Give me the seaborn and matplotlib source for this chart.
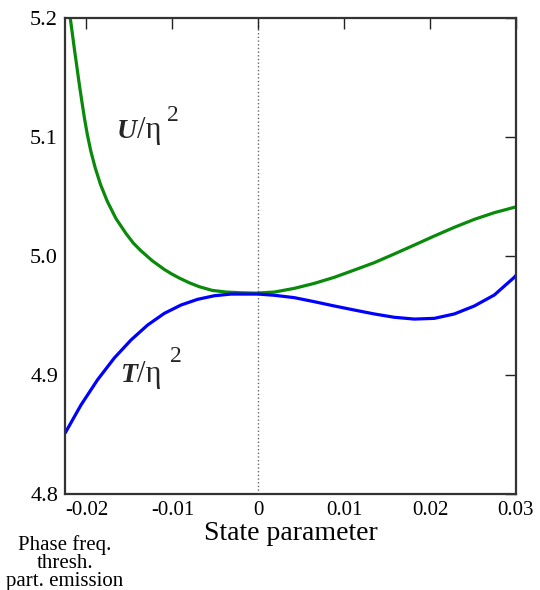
import numpy as np
import pandas as pd
import matplotlib
matplotlib.use('Agg')
import matplotlib.pyplot as plt
import seaborn as sns
from matplotlib.transforms import offset_copy

# ---- data ----
u_x = [-0.02189, -0.02163, -0.02137, -0.0211, -0.02083, -0.02054, -0.02024, -0.0199,
       -0.01949, -0.01898, -0.01836, -0.01758, -0.01657, -0.0154, -0.01455, -0.01366,
       -0.01234, -0.01094, -0.01013, -0.0092, -0.00803, -0.00687, -0.00536, -0.00373,
       -0.00198, -0.00023, 0.00186, 0.00419, 0.00652,
       0.00885, 0.01118, 0.0135, 0.01583, 0.01816, 0.02049, 0.02282, 0.02515, 0.02747,
       0.0298, 0.03]
u_y = [5.200, 5.186, 5.172, 5.158, 5.144, 5.130, 5.116, 5.102,
       5.088, 5.074, 5.060, 5.046, 5.0315, 5.0189, 5.0109, 5.0044,
       4.9960, 4.9887, 4.9851, 4.9815, 4.9775, 4.9742, 4.9711, 4.9697,
       4.9691, 4.9688, 4.9697, 4.9728, 4.977,
       4.9821, 4.9882, 4.9944, 5.0017, 5.0092, 5.0168, 5.0241, 5.0308, 5.0364,
       5.0409, 5.0412]

t_x = [-0.0225, -0.02064, -0.01871, -0.01676, -0.01482, -0.01288, -0.01094, -0.009,
       -0.00706, -0.00512, -0.00318, 0.0, 0.00186, 0.00419, 0.00652, 0.00885, 0.01118,
       0.0135, 0.01583, 0.01816, 0.02049, 0.02282, 0.02515, 0.02747, 0.0298, 0.03]
t_y = [4.851, 4.8748, 4.8960, 4.9143, 4.9294, 4.942, 4.9518, 4.9588,
       4.9636, 4.9666, 4.9680, 4.9680, 4.967, 4.965, 4.9616, 4.958, 4.9546,
       4.9513, 4.9485, 4.947, 4.9476, 4.9513, 4.958, 4.9672, 4.9821, 4.9838]

x_ticks = [-0.02, -0.01, 0.0, 0.01, 0.02, 0.03]
x_tick_labels = ['-0.02', '-0.01', '0', '0.01', '0.02', '0.03']
y_ticks = [4.8, 4.9, 5.0, 5.1, 5.2]
y_tick_labels = ['4.8', '4.9', '5.0', '5.1', '5.2']
x_label = 'State parameter'
note_text = 'Phase freq.\nthresh.\npart. emission'

# ---- style ----
sns.set_theme(style='white')
plt.rcParams['font.family'] = ['Liberation Serif', 'DejaVu Serif']
plt.rcParams['axes.unicode_minus'] = False

df = pd.concat([
    pd.DataFrame({'x': u_x, 'y': u_y, 'series': 'U'}),
    pd.DataFrame({'x': t_x, 'y': t_y, 'series': 'T'}),
], ignore_index=True)

fig = plt.figure(figsize=(5.4, 5.9), dpi=100)
ax = fig.add_axes([65 / 540, 1 - 494 / 590, (516 - 65) / 540, (494 - 18) / 590])

sns.lineplot(data=df, x='x', y='y', hue='series', estimator=None, sort=False,
             palette={'U': '#0a8a0a', 'T': '#0000ff'}, linewidth=2.3,
             legend=False, ax=ax)
for ln in ax.get_lines():
    ln.set_solid_joinstyle('round')
    ln.set_solid_capstyle('butt')

ax.axvline(0, color='#666666', linestyle=':', linewidth=1.0, zorder=0)

ax.set_xlim(-0.0225, 0.03)
ax.set_ylim(4.8, 5.2)
ax.set_xticks(x_ticks)
ax.set_xticklabels(x_tick_labels)
ax.set_yticks(y_ticks)
ax.set_yticklabels(y_tick_labels)
ax.tick_params(direction='in', length=8, width=1.0, colors='#222222',
               top=True, right=True, labelsize=15)
ax.tick_params(axis='x', pad=5)
ax.tick_params(axis='y', pad=5, labelsize=16)
for lab in ax.get_xticklabels() + ax.get_yticklabels():
    lab.set_color('black')
for s in ax.spines.values():
    s.set_linewidth(1.6)
    s.set_color('#333333')
ax.set_xlabel(x_label, fontsize=20, color='black')
ax.xaxis.set_label_coords(0.5, -0.056)
ax.set_ylabel('')

# ---- curve labels ----
def curve_label(letter, xd, yd, slash_dx, sup_dx, sup_dy):
    ax.text(xd, yd, letter, fontsize=20, fontweight='bold', fontstyle='italic',
            ha='left', va='baseline', transform=ax.transData)
    tr1 = offset_copy(ax.transData, fig=fig, x=slash_dx, y=0, units='dots')
    ax.text(xd, yd, '/\u03b7', fontsize=22, ha='left', va='baseline', transform=tr1)
    tr2 = offset_copy(ax.transData, fig=fig, x=sup_dx, y=sup_dy, units='dots')
    ax.text(xd, yd, '2', fontsize=17, ha='left', va='baseline', transform=tr2)

curve_label('U', -0.01645, 5.0992, 20, 50, 17)
curve_label('T', -0.01599, 4.8941, 16, 49, 20)

fig.text(65 / 540, 1 - 535 / 590, note_text, ha='center', va='top',
         fontsize=15, linespacing=0.92, color='black')

fig.savefig('out.png', dpi=100)
